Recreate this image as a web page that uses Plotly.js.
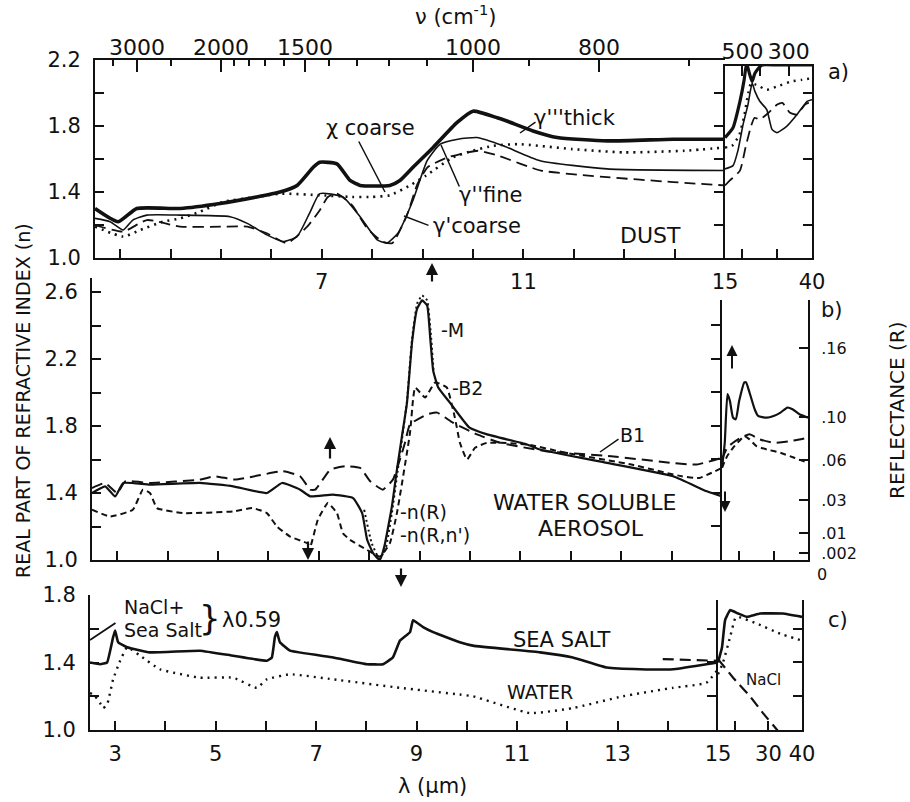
<!DOCTYPE html>
<html><head><meta charset="utf-8">
<script src="https://cdn.plot.ly/plotly-3.0.1.min.js"></script>
<style>html,body{margin:0;padding:0;background:#fff;}#chart{width:910px;height:802px;}</style>
</head><body><div id="chart"></div>
<script>
// ---------- Panel a) DUST, main section (lambda in µm, n) ----------
const dustThickLam = [2.5,2.96,3.33,4.19,4.98,5.71,6.17,6.51,6.83,6.96,7.30,7.56,7.76,8.35,8.55,8.81,9.21,9.68,10.0,10.48,10.67,11.19,11.67,12.66,13.97,15];
const dustThickN   = [1.30,1.22,1.30,1.30,1.33,1.37,1.40,1.44,1.55,1.58,1.57,1.47,1.44,1.44,1.47,1.55,1.67,1.82,1.89,1.85,1.83,1.77,1.73,1.71,1.72,1.72];
const dustFineLam  = [2.5,2.8,3.06,3.25,3.53,4.19,5.18,5.52,5.91,6.23,6.51,6.77,6.96,7.42,7.76,8.10,8.29,8.51,8.81,9.09,9.35,9.7,10.08,10.6,11.33,12.66,15];
const dustFineN    = [1.24,1.22,1.17,1.23,1.26,1.26,1.25,1.21,1.14,1.10,1.13,1.28,1.39,1.37,1.25,1.11,1.09,1.15,1.35,1.59,1.69,1.72,1.73,1.68,1.59,1.54,1.53];
const dustCoarseLam= [2.5,3.06,3.53,4.19,5.0,5.52,5.91,6.31,6.71,6.96,7.12,7.3,7.6,7.9,8.2,8.4,8.69,8.9,9.1,9.5,10.1,10.5,11.35,12.66,13.97,15];
const dustCoarseN  = [1.20,1.16,1.23,1.19,1.19,1.19,1.15,1.09,1.19,1.29,1.37,1.39,1.32,1.18,1.10,1.09,1.26,1.45,1.55,1.61,1.65,1.62,1.53,1.49,1.46,1.44];
const dustChiLam   = [2.5,3.06,3.4,3.85,4.19,4.58,5.04,5.71,6.17,7.0,7.6,8.0,8.35,8.75,9.07,9.6,10.0,10.4,10.9,11.97,13.0,14.2,15];
const dustChiN     = [1.19,1.13,1.17,1.22,1.24,1.28,1.34,1.37,1.39,1.38,1.37,1.37,1.38,1.44,1.50,1.61,1.65,1.68,1.69,1.66,1.64,1.65,1.67];
// Panel a) right section (15–40 µm)
const dustThickRLam = [15,17.3,19.3,20.5,21.2,22.0,22.8,23.6,25.6,30,33.7,37,40];
const dustThickRN   = [1.73,1.79,1.95,2.08,2.18,2.12,2.07,2.12,2.17,2.17,2.17,2.17,2.17];
const dustFineRLam  = [15,17.3,18.7,20.2,21.6,22.8,23.6,25,27,28.5,29.9,32.8,35.7,38.6,40];
const dustFineRN    = [1.54,1.56,1.65,1.81,1.93,2.06,2.01,1.95,1.90,1.78,1.76,1.80,1.87,1.95,1.96];
const dustCoarseRLam= [15,16.4,19.3,21,22.5,23.5,25,27.5,30,31.5,33.7,35.7,38,40];
const dustCoarseRN  = [1.44,1.47,1.53,1.68,1.80,1.85,1.84,1.88,1.93,1.94,1.88,1.87,1.93,1.95];
const dustChiRLam   = [15,17,19,20.5,21.5,22.5,24,27,30,34,37,40];
const dustChiRN     = [1.67,1.68,1.74,1.86,1.98,2.06,2.05,2.02,2.04,2.07,2.08,2.09];

// ---------- Panel b) WATER SOLUBLE AEROSOL ----------
const wsMLam  = [2.5,2.76,2.96,3.12,3.65,4.64,5.30,5.97,6.27,6.63,6.83,7.28,7.68,7.86,7.96,8.08,8.21,8.30,8.45,8.55,8.65,8.75,8.85,8.95,9.05,9.15,9.21,9.27,9.37,9.60,9.99,10.34,11.13,11.39,12.72,14.03,14.7,15];
const wsMN    = [1.40,1.44,1.38,1.46,1.45,1.46,1.44,1.40,1.46,1.42,1.38,1.39,1.37,1.28,1.12,1.04,1.00,1.08,1.32,1.54,1.74,1.94,2.30,2.50,2.55,2.52,2.33,2.13,2.03,1.94,1.79,1.75,1.69,1.66,1.58,1.50,1.41,1.38];
const wsNRLam = [7.9,8.05,8.2,8.32,8.45,8.55,8.65,8.75,8.85,8.95,9.05,9.15,9.22,9.28];
const wsNRN   = [1.30,1.10,1.01,1.06,1.28,1.50,1.72,1.95,2.32,2.53,2.58,2.55,2.36,2.12];
const wsB2Lam = [2.5,2.86,3.31,3.51,3.65,3.79,4.31,5.30,5.69,5.97,6.17,6.43,6.77,6.83,6.98,7.18,7.36,7.48,7.62,7.96,8.21,8.41,8.55,8.81,8.87,8.91,9.01,9.11,9.31,9.54,9.70,9.80,9.94,10.1,10.34,11.13,11.9,13.2,14.2,14.55,15];
const wsB2N   = [1.30,1.26,1.30,1.42,1.40,1.31,1.28,1.29,1.31,1.28,1.20,1.14,1.10,1.08,1.24,1.34,1.28,1.16,1.12,1.06,1.02,1.10,1.28,1.76,1.96,2.03,2.00,1.97,2.06,2.03,1.85,1.70,1.60,1.67,1.70,1.69,1.64,1.57,1.50,1.49,1.55];
const wsB1Lam = [2.5,2.76,3.0,3.16,3.65,4.64,4.94,5.34,6.29,6.63,6.83,6.93,7.23,7.52,7.82,8.02,8.27,8.47,8.61,8.71,8.81,9.15,9.35,9.66,10.14,10.6,11.5,12.8,14.0,14.5,15];
const wsB1N   = [1.43,1.46,1.40,1.47,1.46,1.48,1.50,1.48,1.53,1.50,1.42,1.42,1.54,1.56,1.55,1.47,1.42,1.48,1.60,1.70,1.81,1.87,1.88,1.82,1.75,1.70,1.65,1.62,1.58,1.57,1.61];
// Panel b) right section: reflectance curves, read on the panel's height scale
const wsRSolidLam = [15,15.8,16.6,17.3,18.2,19.0,20.0,21.5,22.0,23.0,24.5,25.5,28,30,32,34,35.5,37.5,40];
const wsRSolidN   = [1.55,1.70,1.99,1.95,1.85,1.84,1.95,2.06,2.06,2.00,1.90,1.86,1.85,1.86,1.88,1.91,1.90,1.87,1.85];
const wsRLongLam  = [15,16.5,18.2,20.5,23,26,30,35,40];
const wsRLongN    = [1.60,1.67,1.70,1.73,1.75,1.72,1.70,1.71,1.73];
const wsRShortLam = [15,16.5,18.2,20,21.5,23,25,28,32,36,40];
const wsRShortN   = [1.55,1.62,1.67,1.71,1.74,1.72,1.68,1.66,1.64,1.61,1.58];
const reflTickPos  = [2.266,1.854,1.597,1.358,1.161,1.04];
const reflTickText = ['.16','.10','.06','.03','.01','.002'];

// ---------- Panel c) SEA SALT / WATER / NaCl ----------
const seaSaltLam = [2.5,2.70,2.84,2.96,3.0,3.06,3.24,3.69,4.69,5.35,6.02,6.12,6.18,6.22,6.28,6.48,7.34,8.01,8.33,8.53,8.67,8.87,8.93,9.13,9.33,9.86,10.12,11.46,12.11,12.79,13.45,14.1,14.77,15];
const seaSaltN   = [1.40,1.39,1.40,1.55,1.59,1.52,1.49,1.46,1.47,1.44,1.41,1.43,1.55,1.58,1.52,1.47,1.43,1.39,1.39,1.43,1.53,1.58,1.65,1.61,1.58,1.52,1.50,1.46,1.43,1.37,1.36,1.36,1.39,1.40];
const waterLam   = [2.5,2.60,2.70,2.76,2.84,2.96,3.10,3.24,3.50,3.89,4.69,5.35,5.82,6.02,6.48,7.34,8.67,9.86,10.12,11.26,12.11,13.11,14.1,14.77,15];
const waterN     = [1.22,1.20,1.16,1.13,1.15,1.30,1.41,1.49,1.44,1.36,1.31,1.31,1.25,1.30,1.33,1.30,1.25,1.21,1.20,1.10,1.13,1.20,1.25,1.28,1.36];
const naclLam    = [13.9,15];
const naclN      = [1.42,1.41];
const seaSaltRLam = [15,16.2,17.1,18.6,21,23.6,27.5,34.3,40];
const seaSaltRN   = [1.40,1.49,1.65,1.71,1.69,1.67,1.69,1.69,1.67];
const waterRLam   = [15,16.5,18.6,20.1,21,26.6,33.5,40];
const waterRN     = [1.33,1.40,1.55,1.66,1.67,1.63,1.57,1.53];
const naclRLam    = [15,19.5,24.5,28.4,32.6,35.6];
const naclRN      = [1.42,1.31,1.20,1.10,1.00,0.92];

// ---------- tick labels ----------
const lamTicks   = [3,4,5,6,7,8,9,10,11,12,13,14,15];
const lamLabelsA = ['','','','','7','','','','11','','','','15'];
const lamLabelsC = ['3','','5','','7','','9','','11','','13','','15'];
const nuMajor    = [3000,2000,1500,1000,800];
const nuMinor    = [3500,2500,1900,1800,1700,1600,1400,1300,1200,1100,900,700];
const nuRight    = [500,400,300];
const nuRightTxt = ['500','','300'];

const INK = '#111';
const FONT = 'DejaVu Sans';
const W = 910, H = 802;
const X = p => p / W, Y = p => 1 - p / H;

function ln(x, y, xa, ya, w, dash, sm) {
  return {x: x, y: y, xaxis: xa, yaxis: ya, mode: 'lines', hoverinfo: 'skip',
          line: {color: INK, width: w, dash: dash || 'solid', shape: 'spline', smoothing: sm === undefined ? 0.5 : sm}};
}
const LONG = '11px,6px', SHORT = '6px,4px', DOT = '2px,5px';
const traces = [
  ln(dustThickLam, dustThickN, 'x', 'y', 3.6),
  ln(dustFineLam, dustFineN, 'x', 'y', 1.6),
  ln(dustCoarseLam, dustCoarseN, 'x', 'y', 1.8, LONG),
  ln(dustChiLam, dustChiN, 'x', 'y', 2.6, DOT),
  ln(dustThickRLam, dustThickRN, 'x2', 'y2', 3.2),
  ln(dustFineRLam, dustFineRN, 'x2', 'y2', 1.6),
  ln(dustCoarseRLam, dustCoarseRN, 'x2', 'y2', 1.8, LONG),
  ln(dustChiRLam, dustChiRN, 'x2', 'y2', 2.4, DOT),
  {x: [], y: [], xaxis: 'x3', yaxis: 'y', mode: 'lines', hoverinfo: 'skip'},
  {x: [], y: [], xaxis: 'x4', yaxis: 'y2', mode: 'lines', hoverinfo: 'skip'},
  {x: [], y: [], xaxis: 'x2', yaxis: 'y3', mode: 'lines', hoverinfo: 'skip'},

  ln(wsMLam, wsMN, 'x5', 'y4', 2.2, 'solid', 0.4),
  ln(wsNRLam, wsNRN, 'x5', 'y4', 2, '2px,3px', 0.4),
  ln(wsB2Lam, wsB2N, 'x5', 'y4', 2, SHORT, 0.4),
  ln(wsB1Lam, wsB1N, 'x5', 'y4', 2, LONG, 0.4),
  ln(wsRSolidLam, wsRSolidN, 'x6', 'y5', 2.2),
  ln(wsRLongLam, wsRLongN, 'x6', 'y5', 2, LONG),
  ln(wsRShortLam, wsRShortN, 'x6', 'y5', 2, SHORT),
  {x: [], y: [], xaxis: 'x6', yaxis: 'y6', mode: 'lines', hoverinfo: 'skip'},

  ln(seaSaltLam, seaSaltN, 'x7', 'y7', 2.6, 'solid', 0.3),
  ln(waterLam, waterN, 'x7', 'y7', 2.4, DOT, 0.4),
  ln(naclLam, naclN, 'x7', 'y7', 2.2, LONG, 0),
  ln(seaSaltRLam, seaSaltRN, 'x8', 'y8', 2.6, 'solid', 0.3),
  ln(waterRLam, waterRN, 'x8', 'y8', 2.4, DOT, 0.4),
  ln(naclRLam, naclRN, 'x8', 'y8', 2.2, LONG, 0),
  {x: [], y: [], xaxis: 'x8', yaxis: 'y9', mode: 'lines', hoverinfo: 'skip'}
];

const tf = {family: FONT, size: 21, color: INK};
function ax(o) {
  return Object.assign({showgrid: false, zeroline: false, showline: true, linecolor: INK, linewidth: 2,
    ticks: 'inside', tickcolor: INK, tickwidth: 2, ticklen: 9, tickfont: tf, fixedrange: true,
    tickmode: 'array'}, o);
}
const nTicks = (a, b) => { const r = []; for (let v = a; v <= b + 1e-9; v += 0.2) r.push(+v.toFixed(1)); return r; };
const nLabels = arr => arr.map((v, i) => (i % 2 === 0 ? v.toFixed(1) : ''));

const yaTicks = nTicks(1.0, 2.2), ybTicks = nTicks(1.0, 2.6), ycTicks = nTicks(1.0, 1.8);

const layout = {
  width: W, height: H, margin: {l: 0, r: 0, t: 0, b: 0},
  paper_bgcolor: '#fff', plot_bgcolor: 'rgba(0,0,0,0)', showlegend: false,
  font: {family: FONT, color: INK},
  // panel a
  xaxis:  ax({domain: [X(95), X(725)], range: [2.5, 15], anchor: 'y', tickvals: lamTicks, ticktext: lamLabelsA, ticklabelstandoff: 4}),
  yaxis:  ax({domain: [Y(258), Y(60)], range: [1.0, 2.2], anchor: 'x', tickvals: yaTicks, ticktext: nLabels(yaTicks), ticklabelstandoff: 8}),
  xaxis2: ax({domain: [X(725), X(812)], range: [15, 40], anchor: 'y2', tickvals: [20, 30, 40], ticktext: ['', '', '40'], ticklabelstandoff: 4}),
  yaxis2: ax({domain: [Y(258), Y(66)], range: [1.0, 2.164], anchor: 'x2', ticks: 'outside', tickvals: [1.2,1.4,1.6,1.8,2.0], showticklabels: false}),
  xaxis3: ax({overlaying: 'x', side: 'top', anchor: 'y', range: [2.5, 15], tickvals: nuMajor.map(v => 1e4 / v), ticktext: nuMajor.map(String), ticklen: 12, ticklabelstandoff: -6,
              tickfont: {family: FONT, size: 22, color: INK},
              minor: {tickmode: 'array', tickvals: nuMinor.map(v => 1e4 / v), ticks: 'inside', ticklen: 6, tickwidth: 2, tickcolor: INK, showgrid: false}}),
  xaxis4: ax({overlaying: 'x2', side: 'top', anchor: 'y2', range: [15, 40], tickvals: nuRight.map(v => 1e4 / v), ticktext: nuRightTxt, ticklen: 10, ticklabelstandoff: -4,
              tickfont: {family: FONT, size: 22, color: INK}}),
  yaxis3: ax({overlaying: 'y2', side: 'right', anchor: 'x2', range: [1.0, 2.164], tickvals: [1.2,1.4,1.6,1.8,2.0], showticklabels: false}),
  // panel b
  xaxis5: ax({domain: [X(92), X(722)], range: [2.5, 15], anchor: 'y4', tickvals: lamTicks, showticklabels: false}),
  yaxis4: ax({domain: [Y(560), Y(278)], range: [1.0, 2.684], anchor: 'x5', tickvals: ybTicks, ticktext: nLabels(ybTicks), ticklabelstandoff: 8}),
  xaxis6: ax({domain: [X(722), X(808)], range: [15, 40], anchor: 'y5', tickvals: [20, 30], showticklabels: false}),
  yaxis5: ax({domain: [Y(560), Y(300)], range: [1.0, 2.552], anchor: 'x6', ticks: 'outside', tickvals: [1.2,1.4,1.6,1.8,2.0,2.2,2.4], showticklabels: false}),
  yaxis6: ax({overlaying: 'y5', side: 'right', anchor: 'x6', range: [1.0, 2.552], tickvals: reflTickPos, ticktext: reflTickText, ticklabelstandoff: 8,
              tickfont: {family: FONT, size: 16, color: INK}}),
  // panel c
  xaxis7: ax({domain: [X(90), X(718)], range: [2.5, 15], anchor: 'y7', tickvals: lamTicks, ticktext: lamLabelsC, ticklabelstandoff: 4}),
  yaxis7: ax({domain: [Y(730), Y(595)], range: [1.0, 1.8], anchor: 'x7', tickvals: ycTicks, ticktext: nLabels(ycTicks), ticklabelstandoff: 8}),
  xaxis8: ax({domain: [X(718), X(802)], range: [15, 40], anchor: 'y8', tickvals: [20, 30, 40], ticktext: ['', '30', '40'], ticklabelstandoff: 4}),
  yaxis8: ax({domain: [Y(730), Y(600)], range: [1.0, 1.770], anchor: 'x8', ticks: 'outside', tickvals: [1.2,1.4,1.6], showticklabels: false}),
  yaxis9: ax({overlaying: 'y8', side: 'right', anchor: 'x8', range: [1.0, 1.770], tickvals: [1.2,1.4,1.6], showticklabels: false}),
  annotations: []
};

function txt(s, px, py, size, opt) {
  layout.annotations.push(Object.assign({text: s, xref: 'paper', yref: 'paper', x: X(px), y: Y(py), showarrow: false,
    xanchor: 'center', yanchor: 'middle', font: {family: FONT, size: size, color: INK}}, opt || {}));
}
function arrow(hx, hy, tx, ty, head, w) {
  layout.annotations.push({text: '', xref: 'paper', yref: 'paper', x: X(hx), y: Y(hy), ax: tx - hx, ay: ty - hy,
    showarrow: true, arrowhead: head, arrowsize: 1.1, arrowwidth: w, arrowcolor: INK, standoff: 0, startstandoff: 0});
}

txt('ν (cm<sup>-1</sup>)', 455, 15, 21);
txt('a)', 838, 72, 21);
txt('χ coarse', 370, 128, 21);
txt("γ'''thick", 575, 118, 21);
txt("γ''fine", 490, 195, 21);
txt("γ'coarse", 477, 226, 21);
txt('DUST', 650, 235, 22);
txt('-M', 452, 330, 19);
txt('-B2', 468, 388, 19);
txt('B1', 632, 435, 19);
txt('-n(R)', 398, 512, 19, {xanchor: 'left'});
txt("-n(R,n')", 398, 535, 19, {xanchor: 'left'});
txt('WATER SOLUBLE', 584, 502, 22);
txt('AEROSOL', 591, 528, 22);
txt('b)', 832, 310, 21);
txt('REFLECTANCE (R)', 897, 410, 20, {textangle: -90});
txt('0', 822, 574, 16);
txt('REAL PART OF REFRACTIVE INDEX (n)', 23, 401, 19, {textangle: -90});
txt('NaCl+', 122, 607, 19, {xanchor: 'left'});
txt('Sea Salt', 122, 630, 19, {xanchor: 'left'});
txt('}', 210, 618, 34);
txt('λ0.59', 220, 620, 21, {xanchor: 'left'});
txt('SEA SALT', 562, 640, 21);
txt('WATER', 540, 692, 19);
txt('NaCl', 763, 680, 15);
txt('c)', 838, 620, 21);
txt('λ (μm)', 432, 786, 21);

// arrows (head x,y ; tail x,y)
arrow(432, 263, 432, 283, 2, 2.2);
arrow(330, 437, 330, 460, 2, 2.2);
arrow(732, 345, 732, 370, 2, 2);
arrow(308, 560, 308, 540, 2, 2.2);
arrow(401, 587, 401, 567, 2, 2.2);
arrow(725, 512, 725, 490, 2, 2);
// label leader lines
arrow(385, 192, 358, 140, 0, 1.5);
arrow(520, 133, 537, 121, 0, 1.5);
arrow(441, 145, 460, 188, 0, 1.5);
arrow(404, 216, 430, 226, 0, 1.5);
arrow(600, 452, 620, 438, 0, 1.5);
arrow(90, 640, 117, 622, 0, 1.8);

Plotly.newPlot('chart', traces, layout, {staticPlot: true, displayModeBar: false});
</script></body></html>
